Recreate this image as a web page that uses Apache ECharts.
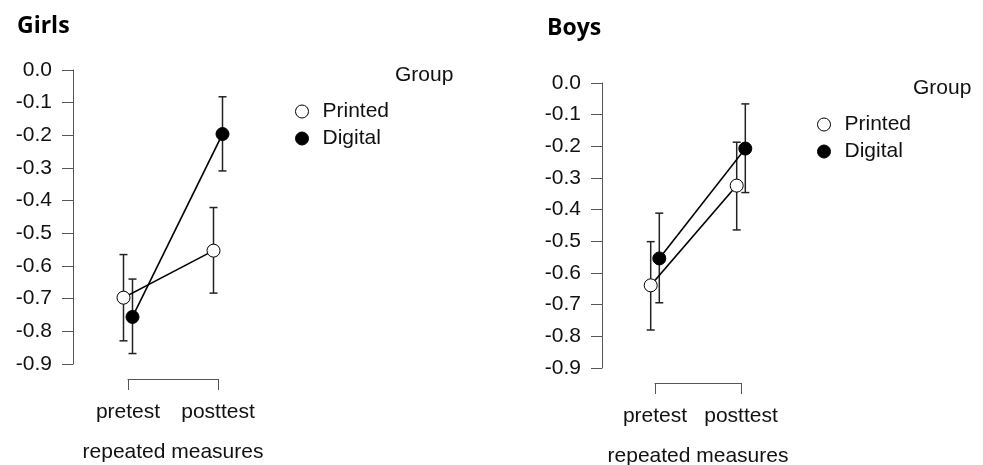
<!DOCTYPE html>
<html>
<head>
<meta charset="utf-8">
<script src="https://cdn.jsdelivr.net/npm/echarts@6/dist/echarts.min.js"></script>
<style>
  html, body { margin: 0; padding: 0; background: #fff; }
  #chart { width: 983px; height: 465px; }
</style>
</head>
<body>
<div id="chart"></div>
<script>
// Repeated measures (pretest / posttest) by reading group, with error bars
const categories = ['pretest', 'posttest'];
const groups = ['Printed', 'Digital'];
const panels = ['Girls', 'Boys'];

// Girls
const girlsPrintedMean = [-0.697, -0.553];
const girlsPrintedLow  = [-0.829, -0.683];
const girlsPrintedHigh = [-0.565, -0.421];
const girlsDigitalMean = [-0.756, -0.196];
const girlsDigitalLow  = [-0.868, -0.309];
const girlsDigitalHigh = [-0.640, -0.082];

// Boys
const boysPrintedMean = [-0.639, -0.324];
const boysPrintedLow  = [-0.780, -0.464];
const boysPrintedHigh = [-0.501, -0.187];
const boysDigitalMean = [-0.554, -0.207];
const boysDigitalLow  = [-0.694, -0.346];
const boysDigitalHigh = [-0.411, -0.066];

// y-axis ticks
const yMin = -0.9, yMax = 0, yStep = 0.1;

const FONT = '"Liberation Sans", Arial, sans-serif';
const FS = 21;
const AXIS_COLOR = '#555';
const TEXT_COLOR = '#111';
const dodge = { Printed: -0.05, Digital: 0.05 };

const panelData = [
  {
    Printed: { mean: girlsPrintedMean, low: girlsPrintedLow, high: girlsPrintedHigh },
    Digital: { mean: girlsDigitalMean, low: girlsDigitalLow, high: girlsDigitalHigh }
  },
  {
    Printed: { mean: boysPrintedMean, low: boysPrintedLow, high: boysPrintedHigh },
    Digital: { mean: boysDigitalMean, low: boysDigitalLow, high: boysDigitalHigh }
  }
];

const gridLayout = [
  { left: 128, top: 70, width: 90, height: 294, yOffset: 55 },
  { left: 655, top: 83, width: 86, height: 285, yOffset: 53 }
];

const groupStyle = {
  Printed: { color: '#fff', borderColor: '#000', borderWidth: 1 },
  Digital: { color: '#000', borderColor: '#000', borderWidth: 1 }
};

function errorBar(params, api) {
  const x = api.value(0);
  const pLo = api.coord([x, api.value(1)]);
  const pHi = api.coord([x, api.value(2)]);
  const cap = 4;
  const style = { stroke: '#222', lineWidth: 1.5 };
  return {
    type: 'group',
    children: [
      { type: 'line', shape: { x1: pLo[0], y1: pLo[1], x2: pHi[0], y2: pHi[1] }, style },
      { type: 'line', shape: { x1: pLo[0] - cap, y1: pLo[1], x2: pLo[0] + cap, y2: pLo[1] }, style },
      { type: 'line', shape: { x1: pHi[0] - cap, y1: pHi[1], x2: pHi[0] + cap, y2: pHi[1] }, style }
    ]
  };
}

const grid = [], xAxis = [], yAxis = [], series = [];

gridLayout.forEach((g, i) => {
  grid.push({
    left: g.left, top: g.top, width: g.width, height: g.height,
    containLabel: false, outerBoundsMode: 'none'
  });
  xAxis.push({
    type: 'value', gridIndex: i, position: 'bottom', min: 1, max: 2, interval: 1,
    offset: 15,
    axisLine: { show: true, onZero: false, lineStyle: { color: AXIS_COLOR, width: 1 } },
    axisTick: { show: true, length: 11, lineStyle: { color: AXIS_COLOR, width: 1 } },
    splitLine: { show: false },
    axisLabel: {
      margin: 23, fontSize: FS, color: TEXT_COLOR, fontFamily: FONT,
      formatter: v => categories[Math.round(v) - 1] || ''
    },
    name: 'repeated measures', nameLocation: 'middle', nameGap: 63,
    nameTextStyle: { fontSize: FS, color: TEXT_COLOR, fontFamily: FONT }
  });
  yAxis.push({
    type: 'value', gridIndex: i, min: yMin, max: yMax, interval: yStep,
    offset: g.yOffset,
    axisLine: { show: true, onZero: false, lineStyle: { color: AXIS_COLOR, width: 1 } },
    axisTick: { show: true, length: 11, lineStyle: { color: AXIS_COLOR, width: 1 } },
    splitLine: { show: false },
    axisLabel: {
      margin: 21, fontSize: FS, color: TEXT_COLOR, fontFamily: FONT,
      formatter: v => (Math.abs(v) < 1e-9 ? 0 : v).toFixed(1)
    }
  });

  groups.forEach(gName => {
    const d = panelData[i][gName];
    series.push({
      type: 'custom', name: gName, xAxisIndex: i, yAxisIndex: i,
      renderItem: errorBar, clip: false, z: 1, silent: true,
      data: categories.map((c, k) => [k + 1 + dodge[gName], d.low[k], d.high[k]])
    });
  });
  groups.forEach(gName => {
    const d = panelData[i][gName];
    series.push({
      type: 'line', name: gName, xAxisIndex: i, yAxisIndex: i,
      clip: false, z: 3, animation: false,
      symbol: 'circle', symbolSize: 13, showSymbol: true,
      lineStyle: { color: '#000', width: 1.6 },
      itemStyle: groupStyle[gName],
      data: categories.map((c, k) => [k + 1 + dodge[gName], d.mean[k]])
    });
  });
});

const legendItems = groups.map(gName => ({ name: gName, icon: 'circle', itemStyle: groupStyle[gName] }));
const legendCommon = {
  orient: 'vertical', itemWidth: 13, itemHeight: 13, itemGap: 6,
  padding: 0, selectedMode: false,
  textStyle: { fontSize: FS, color: TEXT_COLOR, fontFamily: FONT, padding: [0, 0, 0, 9] },
  data: legendItems
};

const option = {
  backgroundColor: '#fff',
  animation: false,
  grid, xAxis, yAxis, series,
  legend: [
    Object.assign({ left: 295, top: 101 }, legendCommon),
    Object.assign({ left: 817, top: 114 }, legendCommon)
  ],
  graphic: [
    { type: 'text', x: 17, y: 26, style: { text: panels[0], font: 'bold 23px "Open Sans", sans-serif', fill: '#000', verticalAlign: 'middle' } },
    { type: 'text', x: 547, y: 28, style: { text: panels[1], font: 'bold 23px "Open Sans", sans-serif', fill: '#000', verticalAlign: 'middle' } },
    { type: 'text', x: 395, y: 75, style: { text: 'Group', font: FS + 'px ' + FONT, fill: TEXT_COLOR, verticalAlign: 'middle' } },
    { type: 'text', x: 913, y: 88, style: { text: 'Group', font: FS + 'px ' + FONT, fill: TEXT_COLOR, verticalAlign: 'middle' } }
  ]
};

const chart = echarts.init(document.getElementById('chart'), null, { renderer: 'canvas' });
chart.setOption(option);
</script>
</body>
</html>
